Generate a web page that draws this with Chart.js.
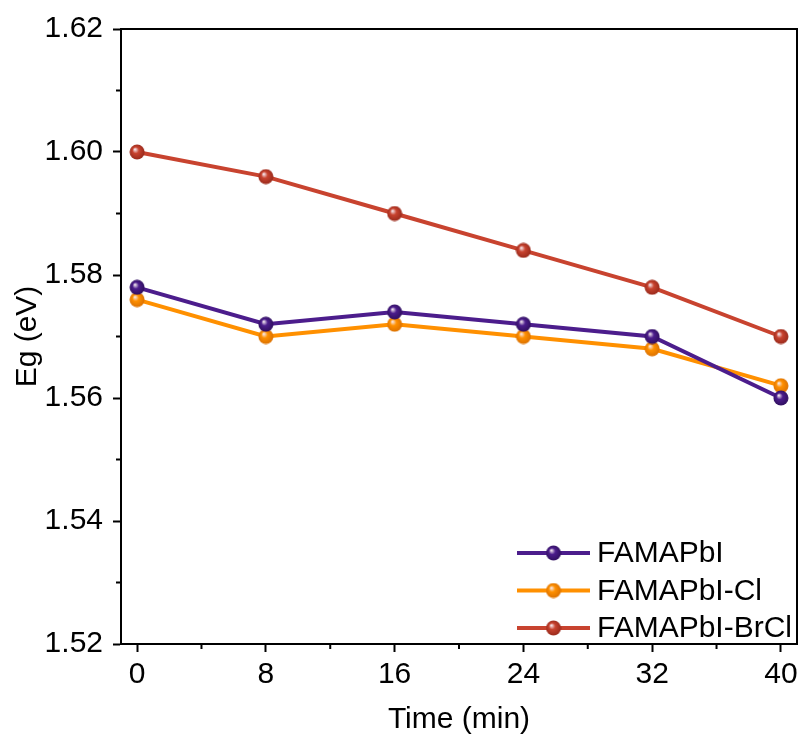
<!DOCTYPE html>
<html>
<head>
<meta charset="utf-8">
<script src="https://cdn.jsdelivr.net/npm/chart.js@4.4.1/dist/chart.umd.min.js"></script>
<style>
html, body { margin: 0; padding: 0; background: #fff; }
#wrap { width: 805px; height: 742px; }
</style>
</head>
<body>
<div id="wrap"><canvas id="egChart" width="805" height="742"></canvas></div>
<script>
const times = [0, 8, 16, 24, 32, 40];
const famapbi = [1.578, 1.572, 1.574, 1.572, 1.570, 1.560];
const famapbiCl = [1.576, 1.570, 1.572, 1.570, 1.568, 1.562];
const famapbiBrCl = [1.600, 1.596, 1.590, 1.584, 1.578, 1.570];
const seriesNames = ['FAMAPbI', 'FAMAPbI-Cl', 'FAMAPbI-BrCl'];
const xTicks = [0, 4, 8, 12, 16, 20, 24, 28, 32, 36, 40];
const yTicks = [1.52, 1.53, 1.54, 1.55, 1.56, 1.57, 1.58, 1.59, 1.60, 1.61, 1.62];

const FONT = '"Liberation Sans", Arial, sans-serif';
const FS = 30;

// little shaded ball used as the marker
function sphere(color, dark) {
    const c = document.createElement('canvas');
    c.width = 16; c.height = 16;
    const g = c.getContext('2d');
    const grad = g.createRadialGradient(5.8, 5.3, 0.3, 8, 8, 8);
    grad.addColorStop(0, '#f6eaf0');
    grad.addColorStop(0.38, color);
    grad.addColorStop(1, dark);
    g.fillStyle = grad;
    g.beginPath();
    g.arc(8, 8, 7.5, 0, Math.PI * 2);
    g.fill();
    return c;
}

const colors = ['#4c1d8c', '#ff9000', '#c8432f'];
const darks = ['#2e0e5c', '#d96f00', '#96281a'];
const values = [famapbi, famapbiCl, famapbiBrCl];

const datasets = values.map((vals, i) => ({
    label: seriesNames[i],
    data: vals.map((v, j) => ({ x: times[j], y: v })),
    borderColor: colors[i],
    backgroundColor: colors[i],
    borderWidth: 4,
    pointStyle: sphere(colors[i], darks[i]),
    tension: 0
}));

// frame, minor ticks and in-plot legend
const extras = {
    id: 'extras',
    afterDraw(chart) {
        const { ctx, chartArea: a, scales } = chart;
        ctx.save();
        ctx.strokeStyle = '#000';
        ctx.lineWidth = 2;
        ctx.strokeRect(a.left, a.top, a.right - a.left, a.bottom - a.top);

        ctx.beginPath();
        xTicks.forEach(v => {
            if (v % 8 === 0) return;
            const px = scales.x.getPixelForValue(v);
            ctx.moveTo(px, a.bottom);
            ctx.lineTo(px, a.bottom + 5);
        });
        yTicks.forEach(v => {
            if (Math.round(v * 100) % 2 === 0) return;
            const py = scales.y.getPixelForValue(v);
            ctx.moveTo(a.left, py);
            ctx.lineTo(a.left - 5, py);
        });
        ctx.stroke();

        // legend
        ctx.font = FS + 'px ' + FONT;
        ctx.textBaseline = 'middle';
        ctx.textAlign = 'left';
        chart.data.datasets.forEach((ds, i) => {
            const y = a.bottom - 91 + i * 37.5;
            const x0 = a.right - 280;
            ctx.strokeStyle = ds.borderColor;
            ctx.lineWidth = 4;
            ctx.beginPath();
            ctx.moveTo(x0, y);
            ctx.lineTo(x0 + 73, y);
            ctx.stroke();
            ctx.drawImage(ds.pointStyle, x0 + 36.5 - 8, y - 8);
            ctx.fillStyle = '#000';
            ctx.fillText(ds.label, x0 + 80, y + 1);
        });
        ctx.restore();
    }
};

new Chart(document.getElementById('egChart'), {
    type: 'line',
    data: { datasets },
    options: {
        responsive: false,
        animation: false,
        devicePixelRatio: 1,
        layout: { padding: { top: 29, right: 7, left: 0, bottom: 0 } },
        plugins: {
            legend: { display: false },
            tooltip: { enabled: false }
        },
        scales: {
            x: {
                type: 'linear',
                min: -1,
                max: 41,
                afterBuildTicks: s => { s.ticks = xTicks.map(v => ({ value: v })); },
                afterFit: s => { s.height = 98; },
                grid: {
                    drawOnChartArea: false,
                    tickLength: 8,
                    tickWidth: 2,
                    tickColor: c => (c.tick && c.tick.value % 8 === 0) ? '#000' : 'rgba(0,0,0,0)'
                },
                border: { color: '#000', width: 2 },
                ticks: {
                    autoSkip: false,
                    maxRotation: 0,
                    padding: 5,
                    color: '#000',
                    font: { family: FONT, size: FS },
                    callback: v => v % 8 === 0 ? String(v) : ''
                },
                title: {
                    display: true,
                    text: 'Time (min)',
                    color: '#000',
                    font: { family: FONT, size: FS },
                    padding: { top: 0, bottom: 4 }
                }
            },
            y: {
                min: 1.52,
                max: 1.62,
                afterBuildTicks: s => { s.ticks = yTicks.map(v => ({ value: v })); },
                afterFit: s => { s.width = 121; },
                grid: {
                    drawOnChartArea: false,
                    tickLength: 8,
                    tickWidth: 2,
                    tickColor: c => (c.tick && Math.round(c.tick.value * 100) % 2 === 0) ? '#000' : 'rgba(0,0,0,0)'
                },
                border: { color: '#000', width: 2 },
                ticks: {
                    autoSkip: false,
                    padding: 10,
                    color: '#000',
                    font: { family: FONT, size: FS },
                    callback: v => Math.round(v * 100) % 2 === 0 ? v.toFixed(2) : ''
                },
                title: {
                    display: true,
                    text: 'Eg (eV)',
                    color: '#000',
                    font: { family: FONT, size: FS },
                    padding: { top: 10, bottom: 0 }
                }
            }
        }
    },
    plugins: [extras]
});
</script>
</body>
</html>
